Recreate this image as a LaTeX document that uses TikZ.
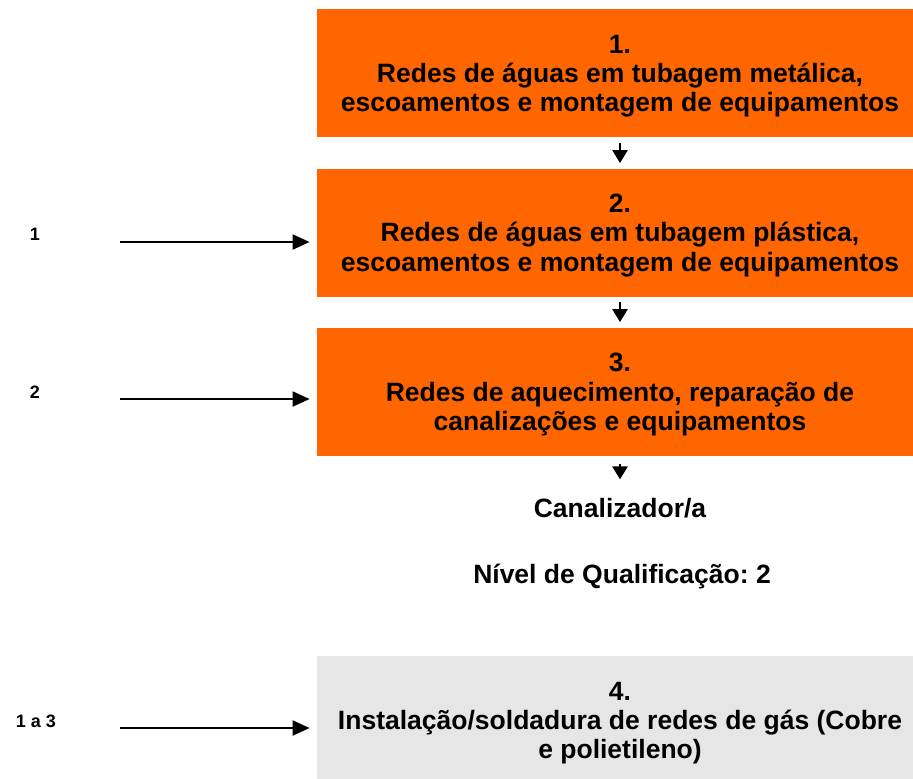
\documentclass[tikz,border=0pt]{standalone}
\usepackage{fontspec}
\setmainfont{Liberation Sans}
\frenchspacing
\usetikzlibrary{arrows.meta,positioning}
\definecolor{o1}{HTML}{FF6600}
\definecolor{g1}{HTML}{E6E6E6}
\tikzset{
    unitbox/.style={minimum width=298pt,minimum height=64pt,inner sep=0pt},
    unittext/.style={align=center,inner sep=0pt,font=\fontsize{13.25}{14.65}\selectfont\bfseries},
    done/.style={unitbox,fill=o1},
    extra/.style={unitbox,fill=g1},
    label/.style={font=\fontsize{9}{11}\selectfont\bfseries,inner sep=0pt,anchor=base},
    result/.style={font=\fontsize{13.25}{14.65}\selectfont\bfseries,inner sep=0pt,anchor=base},
    down/.style={-{Triangle[length=6.5pt,width=7.5pt]},line width=1.2pt,shorten <=2.5pt,shorten >=2.5pt},
    entry/.style={-{Triangle[length=8.5pt,width=7.5pt]},line width=1pt,shorten >=3.5pt}
}
\begin{document}
\begin{tikzpicture}[x=0.5pt,y=-0.5pt]
\useasboundingbox (0,0) rectangle (913,778);
% units of the qualification
\node[done] (u1) at (615,73.3) {};
\node[done] (u2) at (615,232.5) {};
\node[done] (u3) at (615,391.5) {};
\node[extra] (u4) at (615,720) {};
\node[unittext] (t1) at ([xshift=2.5pt,yshift=-1.5pt]u1.center) {1.\\Redes de águas em tubagem metálica,\\escoamentos e montagem de equipamentos};
\node[unittext] (t2) at ([xshift=2.5pt,yshift=-1.5pt]u2.center) {2.\\Redes de águas em tubagem plástica,\\escoamentos e montagem de equipamentos};
\node[unittext] (t3) at ([xshift=2.5pt,yshift=-1.5pt]u3.center) {3.\\Redes de aquecimento, reparação de\\canalizações e equipamentos};
\node[unittext] (t4) at ([xshift=2.5pt,yshift=-1.5pt]u4.center) {4.\\Instalação/soldadura de redes de gás (Cobre\\e polietileno)};
% outcome
\node[result] (canal) at (620,517) {Canalizador/a};
\node[result] (nivel) at (622,583) {Nível de Qualificação: 2};
% prerequisites
\node[label] (p1) at (35,240) {1};
\node[label] (p2) at (35,398) {2};
\node[label] (p3) at (36,727) {1 a 3};
\coordinate (s1) at (120,242);
\coordinate (s2) at (120,399);
\coordinate (s3) at (120,728);
\draw[down] (u1.south -| canal) -- (u2.north -| canal);
\draw[down] (u2.south -| canal) -- (u3.north -| canal);
\draw[down,shorten <=4pt,shorten >=9pt] (u3.south -| canal) -- (canal.north);
\draw[entry] (s1) -- (s1 -| u2.west);
\draw[entry] (s2) -- (s2 -| u3.west);
\draw[entry] (s3) -- (s3 -| u4.west);
\end{tikzpicture}
\end{document}
